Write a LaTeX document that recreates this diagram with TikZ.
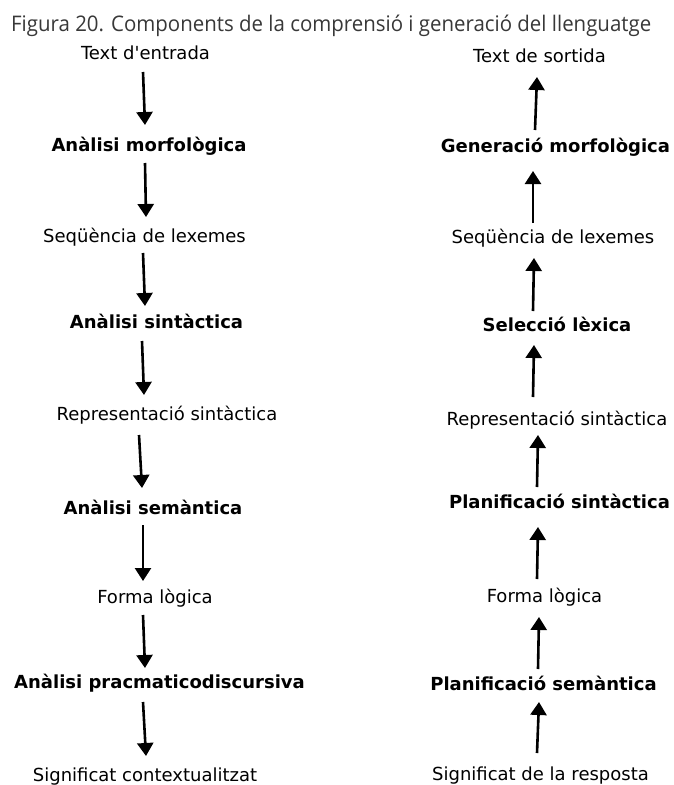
\documentclass[tikz,border=0pt]{standalone}
\usepackage{fontspec}
\usepackage{graphicx}
\setmainfont{DejaVu Sans}
\newfontfamily\captionfont{Open Sans}
\usetikzlibrary{arrows.meta}
\definecolor{captiongray}{HTML}{383838}
\begin{document}
\begin{tikzpicture}[x=1pt,y=-1pt,
  lbl/.style={anchor=base,inner sep=0pt,font=\fontsize{18}{22}\selectfont},
  stage/.style={lbl,font=\fontsize{18}{22}\selectfont\bfseries},
  flow/.style={line width=2.6pt,-{Triangle[width=16pt,length=13pt]}}]
\useasboundingbox (0,0) rectangle (673,785);

% caption
\node[anchor=base west,inner sep=0pt,text=captiongray,
  font=\captionfont\fontsize{21.5}{26}\selectfont] (cap) at (11,31)
  {\resizebox{640pt}{\height}{Figura 20. Components de la comprensió i generació del llenguatge}};

% comprehension (left column, top to bottom)
\node[lbl]   (in)   at (145.5,59)  {Text d\textquotesingle entrada};
\node[stage] (am)   at (149,151)   {Anàlisi morfològica};
\node[lbl]   (lx)   at (144.5,242) {Seqüència de lexemes};
\node[stage] (as)   at (156.5,328) {Anàlisi sintàctica};
\node[lbl]   (rs)   at (167,420)   {Representació sintàctica};
\node[stage] (asm)  at (153,514)   {Anàlisi semàntica};
\node[lbl]   (fl)   at (155,603)   {Forma lògica};
\node[stage] (ap)   at (159.5,688) {Anàlisi pracmaticodiscursiva};
\node[lbl]   (sc)   at (145,781)   {Significat contextualitzat};

% generation (right column, bottom to top)
\node[lbl]   (out)  at (539.5,62)  {Text de sortida};
\node[stage] (gm)   at (555.5,152) {Generació morfològica};
\node[lbl]   (lx2)  at (553,243)   {Seqüència de lexemes};
\node[stage] (sel)  at (557,331)   {Selecció lèxica};
\node[lbl]   (rs2)  at (557,425)   {Representació sintàctica};
\node[stage] (ps)   at (559.5,508) {Planificació sintàctica};
\node[lbl]   (fl2)  at (544.5,602) {Forma lògica};
\node[stage] (psm)  at (543.5,690) {Planificació semàntica};
\node[lbl]   (sr)   at (540.5,780) {Significat de la resposta};

% arrow end points, left column
\coordinate (l1a) at (143,72);  \coordinate (l1b) at (145,125);
\coordinate (l2a) at (145,163); \coordinate (l2b) at (146,217);
\coordinate (l3a) at (143,253); \coordinate (l3b) at (145,306);
\coordinate (l4a) at (142,341); \coordinate (l4b) at (144,395);
\coordinate (l5a) at (139,435); \coordinate (l5b) at (142,488);
\coordinate (l6a) at (143,525); \coordinate (l6b) at (143,581);
\coordinate (l7a) at (143,615); \coordinate (l7b) at (145,668);
\coordinate (l8a) at (143,702); \coordinate (l8b) at (146,756);

% arrow end points, right column
\coordinate (r1a) at (535,130); \coordinate (r1b) at (537,77);
\coordinate (r2a) at (533,223); \coordinate (r2b) at (533,171);
\coordinate (r3a) at (533,311); \coordinate (r3b) at (534,258);
\coordinate (r4a) at (533,397); \coordinate (r4b) at (534,345);
\coordinate (r5a) at (537,487); \coordinate (r5b) at (538,435);
\coordinate (r6a) at (537,579); \coordinate (r6b) at (538,527);
\coordinate (r7a) at (538,669); \coordinate (r7b) at (539,617);
\coordinate (r8a) at (537,753); \coordinate (r8b) at (539,702);

\foreach \i in {1,...,8} {
  \draw[flow] (l\i a) -- (l\i b);
  \draw[flow] (r\i a) -- (r\i b);
}
\end{tikzpicture}
\end{document}
